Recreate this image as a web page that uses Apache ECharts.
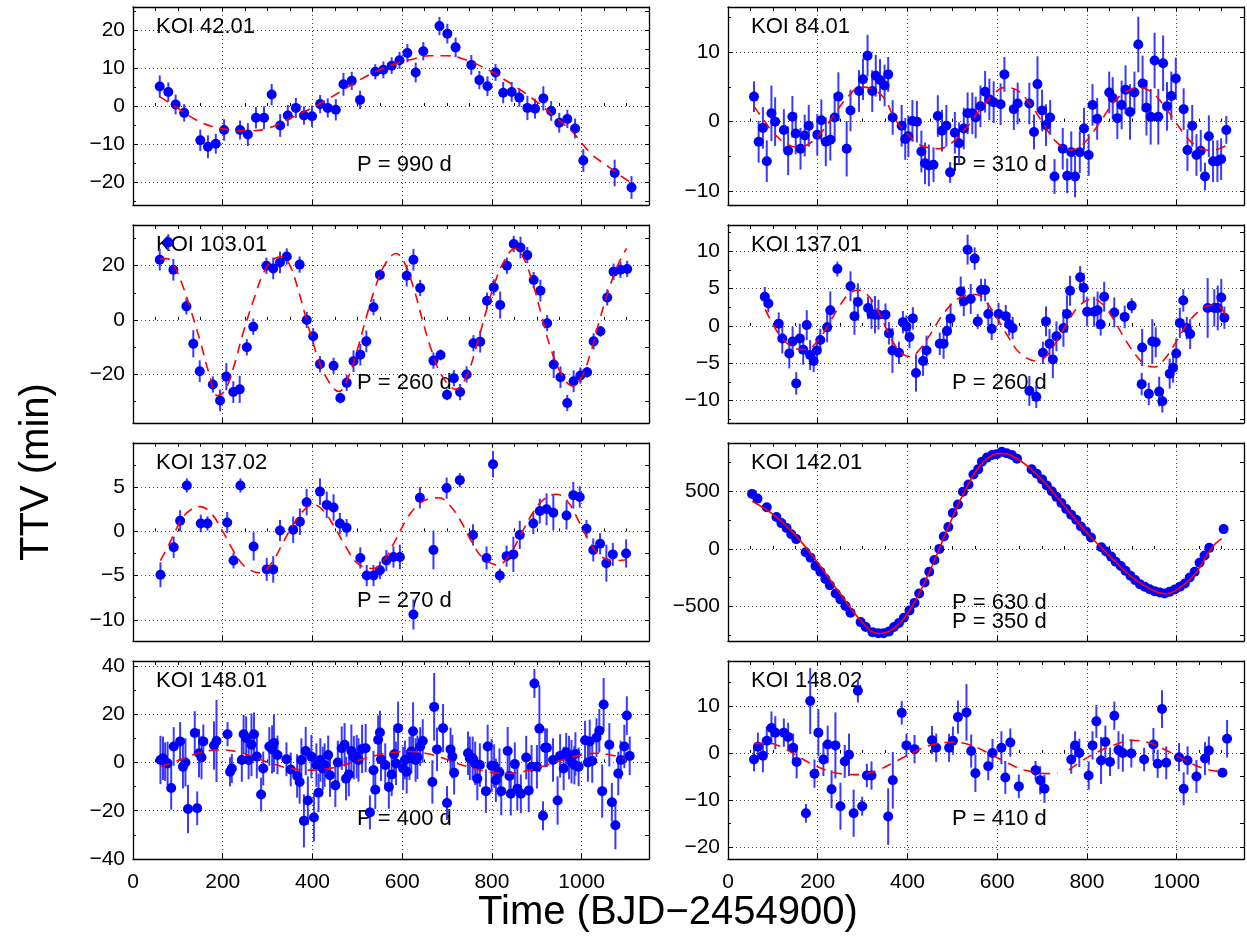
<!DOCTYPE html>
<html lang="en">
<head>
<meta charset="UTF-8">
<title>TTV</title>
<script src="https://cdn.jsdelivr.net/npm/echarts@6/dist/echarts.min.js"></script>
<style>html,body{margin:0;background:#fff}#container{width:1247px;height:941px}</style>
</head>
<body>
<div id="container"></div>
<script>
// observed transit times: [time, ttv, error]
var koi42_01 = [[59.6,5.1,2.9],[78.7,3.7,2.5],[95,0.4,2.6],[114,-1.8,2.3],[150,-9,2.8],[167,-10.7,3],[184.5,-9.9,2.6],[203,-6.3,2.8],[238.6,-6.3,2.5],[256,-7.5,3],[274,-3.1,2.8],[292,-3.1,3],[309,3.0,2.8],[328,-5.1,3],[345,-2.5,2.8],[363,-0.5,2.6],[381,-2.5,2.4],[399,-2.7,2.8],[417,0.5,2.4],[434,-0.5,2.5],[452,-1.0,2.8],[469,5.7,3],[487.5,6.6,2.4],[506,1.6,2.4],[540,9.0,2.0],[558,9.5,2.2],[576.5,10.6,2.2],[594,12.0,2.2],[611.5,13.9,2.4],[630,8.8,2.6],[647,14.4,2.4],[683,21.0,2.4],[700.6,19.0,2.6],[719,15.4,2.6],[754,10.8,2.6],[772,6.8,2.4],[790,5.2,2.6],[808,8.8,2.2],[825,3.5,2.8],[844,3.7,2.6],[861,2.2,2.4],[879,-0.5,3.2],[896,-0.7,2.6],[914.5,2.0,3.2],[932,-1.3,2.6],[950,-4.4,2.6],[968,-3.4,2.4],[985.3,-5.9,2.6],[1003.6,-14.3,3.0],[1073.5,-17.6,3.5],[1111,-21.4,3]];
var koi42_01_fit = [[60,2.4],[100,-0.6],[140,-3.6],[180,-5.5],[220,-6.3],[260,-6.5],[300,-5.9],[340,-3.8],[380,-1.6],[420,0.8],[460,3.6],[500,6.5],[540,9.0],[580,10.9],[620,12.2],[660,13.2],[700,13.2],[740,12.2],[780,10.2],[820,7.5],[860,4.5],[900,1.1],[940,-2.8],[980,-6.9],[1020,-12.4],[1060,-16.0],[1110,-20.2]];

var koi84_01 = [[57.9,3.6,2.2],[68.3,-2.9,3],[77.8,-0.9,3],[86.4,-5.7,3],[96.8,1.2,4],[105,0,3.5],[124.5,-1.2,3],[134,-4.2,3.5],[143.5,0.7,3],[151,-1.7,3],[161.6,-3.9,3],[171,-2,3],[180,-0.6,3],[199,-1.9,3],[208,0.2,3],[218,-2.9,3.5],[228,-2.6,3],[237.7,0.6,3.5],[246,3.6,3.5],[264.5,-3.9,4],[273,1.6,3],[292,4.4,3],[300.8,6.1,3],[311,9.5,3],[321.5,4.4,3],[329.3,6.6,3],[338.8,6.0,3],[349,5.2,3],[357,6.8,2.5],[367,0.6,2.5],[387,-0.6,3],[395,-2.5,3],[402,-2.1,3],[411,0.1,3],[421,0,3],[431,-4.3,3],[439,-6.0,3],[447.7,-6.3,3],[458,-6.2,2.5],[467.6,0.8,3],[477,-1.3,3],[486.6,-0.6,3],[495,-7.3,1.5],[505.6,-1.6,3],[515,-3.1,3],[525.5,-1.0,3],[534,1.2,3],[544.5,1.2,3],[552,0.6,3],[562.6,2.2,3],[573,4.3,3],[582.5,3.2,3],[592,2.8,3],[607.6,2.5,3],[616,6.8,2.5],[637,1.8,3],[645.6,2.6,3],[671.6,2.6,3],[682,-1.5,2.5],[689.7,5.4,4],[700,1.6,3],[708.7,-0.5,3],[718,0.6,2.5],[727.7,-7.9,2.5],[746,-3.9,3],[756,-7.8,2.5],[765,-4.4,3],[773.5,-7.9,3],[784,-4.4,3],[793.4,-1.0,3],[803.8,-4.8,3],[812.4,2.4,3],[822.8,0.4,3],[849.6,4.2,3],[857.4,3.4,3],[867.7,0.5,3],[877.3,2.4,3.5],[886,4.6,3.5],[896,1.4,4],[905.8,4.2,3],[914.4,11.1,4],[924,5.5,4],[932.6,2.0,4],[942,0.7,4],[950.7,8.8,4],[959,0.7,4],[969.7,8.4,4],[978.4,2.2,3.5],[988,3.7,3.5],[998,6.2,3],[1015.5,1.8,3],[1024,-4.1,3],[1034.6,-0.6,3],[1044,-4.8,3],[1053.6,-4.2,3],[1063,-7.9,2],[1071.7,-2.1,3],[1081,-5.7,3],[1090.7,-5.7,3],[1099,-5.4,3],[1110.6,-1.2,2]];
var koi84_01_fit = [[58,2.2],[80,0.2],[100,-1.5],[125,-3.0],[155,-3.7],[185,-3.0],[215,-1.0],[245,1.8],[270,3.8],[295,5.0],[325,4.6],[350,3.2],[370,0.6],[400,-1.8],[430,-3.4],[470,-3.9],[500,-3.0],[530,-1.0],[560,1.6],[590,3.8],[615,4.9],[645,4.5],[670,2.8],[700,0.0],[730,-2.8],[765,-4.1],[795,-3.0],[830,0.0],[860,2.8],[890,4.4],[916,4.9],[945,4.2],[975,2.0],[1000,-0.3],[1030,-2.8],[1060,-4.0],[1080,-4.1],[1111,-3.4]];

var koi103_01 = [[59.6,22.2,4],[78.7,28.6,3],[90,18.5,4],[119,5.0,3],[134.4,-8.8,5],[148.7,-18.9,4],[178,-23.8,3],[194,-29.7,4],[208,-20.9,5],[223.5,-26.6,4],[237.8,-25.6,5],[253.7,-10.1,3],[268,-2.5,3],[297.4,20.0,3],[312.5,19.0,4],[327.6,21.2,4],[342.7,23.4,3],[371.4,20.4,3],[387.3,0,3],[401.6,-6.0,3],[416.7,-16.3,3],[447,-16.9,3],[462,-28.8,2],[476.3,-23.2,3],[491.5,-15.2,4],[506.6,-12.8,4],[520,-7.9,4],[536,4.7,3],[550.3,16.6,2],[610,16.3,4],[625,22.2,4],[640,11.8,3],[669.6,-15.0,3],[685.5,-12.9,2],[699.8,-27.6,2],[715,-21.5,3],[729,-26.6,3],[743.5,-20.1,3],[758.7,-8.6,3],[773.8,-8.0,4],[788.9,7.1,3],[804,12.0,3],[818.3,5.5,5],[833.4,20.0,3],[848.5,28.0,3],[863.6,26.7,4],[878.7,23.9,3],[893,14.7,3],[908,10.8,4],[923,-1.2,3],[937.6,-16.4,5],[952.7,-21.1,4],[967.8,-30.6,3],[982,-22.6,4],[997,-20.5,3],[1012,-19.3,2],[1026.6,-7.9,3],[1041.7,-4.2,2],[1056.9,8.3,3],[1071,17.8,3],[1086.3,18.5,3],[1101.4,18.8,3]];
var koi103_01_fit = [[60,22.4],[75,22.6],[90,20.5],[110,13],[130,3],[150,-8],[170,-20],[188,-27.9],[205,-26],[225,-17],[245,-5],[270,8],[290,17],[310,22],[332,23.4],[350,20],[370,10],[390,-2],[410,-13],[430,-21],[459,-26.4],[480,-21],[500,-11],[520,1],[540,12],[560,20],[586,24.5],[605,21],[625,12],[645,0],[665,-11],[690,-21],[721,-25.6],[745,-20],[765,-10],[785,2],[805,13],[825,21],[852,26.4],[870,23],[890,14],[910,2],[930,-10],[955,-20],[980,-24.4],[1000,-21],[1020,-12],[1040,0],[1060,11],[1080,20],[1100,26.4]];

var koi137_01 = [[82,3.9,1.3],[90,3.0,1.2],[113,0.3,1.5],[121,-1.7,2],[136.6,-3.7,2],[144,-2.1,2],[152,-7.7,1.5],[160,-1.7,2],[167.7,-3.2,2],[175.5,0.1,2],[183,-3.9,2],[191,-4.7,1.5],[198,-3.3,1.5],[205.7,-1.9,1.5],[221,-0.2,2],[228,2.1,2.5],[243.7,7.6,1],[273,5.3,2],[281.8,1.3,2.5],[289.5,3.2,2.5],[312,2.4,1.5],[319.8,1.6,2],[327.6,1.5,2.5],[335.3,1.5,2],[351,1.5,1.5],[358.7,-1.0,1.5],[366.5,-3.3,3],[381,-3.6,1.5],[389.8,0.5,1.5],[397.6,-0.1,1.5],[404.5,-1.5,1.5],[412,1.0,1.5],[419,-6.3,2.5],[434.7,-4.7,2],[442.5,-3.3,2],[472,-2.4,1.5],[480.5,-2.4,2],[488,-0.7,2],[496,1.0,2],[518.6,4.6,2],[525.5,3.3,2],[534,10.2,2],[541,3.6,2],[549.7,9.0,1.5],[556.6,0.6,1],[564,4.8,1.5],[573,4.8,1.5],[580,1.6,1.5],[587.7,-0.4,1.5],[603,1.6,1.5],[619,1.3,1.5],[626.6,0.2,1.5],[634.4,-0.3,1.5],[671.6,-8.7,2],[687,-9.5,1.5],[701.8,-3.6,1.5],[708.7,0.6,2],[716.5,-2.4,2],[724,-4.5,2.5],[732,-1.4,2],[747.6,-0.3,2.5],[755.4,1.6,2.5],[762.3,4.7,2],[784.8,6.5,1.5],[792.6,5.1,2],[800.4,1.9,2],[816,1.9,2],[823.7,2.1,2.5],[830.6,0.2,1.5],[838.4,3.9,2],[860.8,1.8,2],[884,1.2,1.5],[899.7,2.7,1],[922,-7.8,1.5],[923,-2.9,2.5],[937.8,-9.1,1.5],[945.6,-2.1,3],[953.3,-2.2,2],[961,-8.8,2],[968,-10.1,1.5],[984.4,-6.4,2],[992,-5.6,2],[999,-3.7,2],[1007,0.4,2],[1014.7,3.4,1.5],[1022.5,-0.3,1.5],[1030,-1.1,2],[1069,2.4,4],[1083.8,2.4,2.5],[1091.6,2.4,3],[1099.4,3.8,2.5],[1106.3,1.1,1.5]];
var koi137_01_fit = [[83,2.2],[100,0.2],[120,-1.6],[145,-2.9],[173,-3.2],[200,-2.0],[225,0.3],[250,2.8],[270,4.3],[290,4.8],[310,4.2],[330,2.5],[350,0.0],[370,-2.4],[390,-3.8],[406,-4.1],[425,-3.3],[450,-1.2],[475,1.2],[500,3.0],[525,4.0],[553,4.2],[575,3.2],[600,1.0],[625,-1.5],[650,-3.6],[687,-4.7],[710,-4.0],[735,-1.8],[760,0.8],[785,2.8],[812,3.6],[835,2.9],[860,0.8],[885,-1.8],[910,-4.0],[930,-5.2],[951,-5.5],[975,-4.3],[1000,-2.0],[1025,0.4],[1050,2.0],[1070,2.7],[1089,2.8],[1110,1.3]];

var koi137_02 = [[61.2,-4.9,1.4],[90.7,-1.8,1.2],[105,1.2,1.2],[120,5.2,0.8],[151,0.9,1.0],[166,0.9,0.8],[210,1.0,1.2],[224,-3.3,0.9],[239.4,5.2,0.8],[268.8,-1.7,1.6],[298,-4.3,1.3],[312.5,-4.3,1.5],[327.6,0.1,1.2],[357,0.2,1.5],[372,1.1,1.5],[387,3.3,1.5],[416.7,4.5,1.5],[431.8,3.0,1.5],[447,2.7,1.5],[461,0.9,1.2],[476,0.4,1.0],[506.6,-3.0,1.2],[520.9,-5.0,1.2],[536,-5.0,1.2],[550.3,-4.4,1.0],[564.6,-3.3,1.2],[580.5,-2.9,1.2],[594.8,-2.9,1.4],[625,-9.4,1.7],[639.4,3.8,1.2],[669.6,-2.1,2.2],[699,4.9,1.2],[728.4,5.8,0.8],[757.8,-0.4,1.2],[788,-3.0,1.3],[802.4,7.6,1.5],[817.5,-5.0,0.8],[832.6,-2.8,1.2],[847.7,-2.6,2],[862,-0.4,1.6],[892.2,0.9,1.2],[906.6,2.3,1.4],[921.7,2.5,1.8],[936.8,2.1,2],[966.2,1.8,1.6],[981.3,4.1,1.5],[995.6,3.9,1.2],[1010.7,0.3,1.0],[1025.8,-2.1,1.3],[1041,-1.4,1.2],[1055,-3.6,2.1],[1069.4,-2.6,1.3],[1099,-2.5,1.6]];
var koi137_02_fit = [[61,-3.3],[80,-1.5],[100,0.6],[120,2.1],[149,2.8],[175,2.0],[200,0.0],[225,-2.3],[250,-4.0],[284,-4.7],[310,-3.5],[335,-1.2],[360,1.0],[385,2.6],[403,3.0],[425,2.3],[450,0.4],[475,-1.8],[500,-3.6],[534,-4.2],[560,-3.2],[585,-1.0],[610,1.4],[635,3.0],[660,3.7],[682,3.8],[705,3.0],[730,1.2],[755,-1.2],[780,-3.0],[813,-3.8],[840,-2.6],[865,-0.3],[890,2.0],[915,3.6],[944,4.2],[970,3.3],[995,1.0],[1020,-1.4],[1045,-2.9],[1079,-3.3],[1099,-3.2]];

// KOI 142.01: errors smaller than the dots
var koi142_01 = [[53.6,478,0],[65.7,437,0],[86.4,362,0],[108,277,0],[119,224,0],[130.5,181,0],[141,128,0],[152,85,0],[173,-29,0],[184,-76,0],[195,-149,0],[206,-198,0],[217,-262,0],[227,-315,0],[240,-388,0],[250.6,-440,0],[262,-496,0],[273,-554,0],[295.6,-636,0],[307,-679,0],[322,-723,0],[335,-732,0],[346.6,-732,0],[358.7,-717,0],[370,-679,0],[381,-644,0],[392,-598,0],[404.5,-534,0],[415.7,-469,0],[426,-388,0],[438,-292,0],[448.6,-198,0],[460,-96,0],[471,0,0],[481,108,0],[491,190,0],[501,312,0],[512.5,385,0],[523.7,496,0],[536,560,0],[547,647,0],[557.5,691,0],[566,758,0],[577,793,0],[588.6,816,0],[599,822,0],[610,843,0],[621,831,0],[632.7,816,0],[644,784,0],[676.7,691,0],[688,653,0],[700,604,0],[710.5,551,0],[721.7,501,0],[732,452,0],[743,399,0],[753.7,347,0],[765,297,0],[776,254,0],[786.5,195,0],[797.7,152,0],[809,99,0],[832,15,0],[842.7,-23,0],[854,-67,0],[864,-111,0],[875.5,-149,0],[886,-190,0],[897,-233,0],[907.5,-271,0],[918,-306,0],[929,-329,0],[940,-350,0],[950.7,-367,0],[962,-379,0],[973,-388,0],[984,-373,0],[995.7,-353,0],[1007,-329,0],[1018,-300,0],[1029,-248,0],[1040,-198,0],[1051,-120,0],[1062,-58,0],[1072.6,9,0],[1104.6,172,0]];
var koi142_01_fit = [[54,414],[100,300],[150,120],[200,-120],[250,-390],[300,-640],[335,-735],[370,-690],[410,-500],[450,-190],[490,180],[530,520],[570,760],[610,830],[650,770],[700,600],[750,370],[800,140],[850,-60],[900,-245],[950,-365],[975,-390],[1000,-355],[1040,-220],[1080,20],[1100,90]];

var koi148_01 = [[61.2,1.0,10],[66.8,1.7,9],[71.6,0.3,8],[77.1,-0.4,9],[85.1,-10.6,9],[90.7,6.6,8],[105,8.7,8],[111.3,-1.8,9],[116.9,0,10],[122.5,-19.3,10],[137.6,12.2,9],[143.1,-19.0,7],[147.1,3.8,10],[152.7,2.0,9],[156.7,8.7,7],[180.5,7.0,10],[186.1,8.9,17],[210.7,11.7,5],[216.3,-3.9,6],[220.3,-2.5,6],[242.5,1.0,9],[246.5,11.7,8],[252.1,10.1,9],[257.7,1.0,8],[264,7.3,13],[269.6,11.7,9],[276,2.4,9],[285.5,-13.3,7],[290.2,-2.5,7],[303.8,6.6,8],[310.1,5.4,10],[314.1,8.0,12],[322,3.1,8],[342,1.3,7],[351.5,-2.9,7],[365.8,-5.6,9],[371.4,-8.1,9],[375.3,1.0,9],[380.9,-24.2,11],[384.9,4.7,10],[389.7,-15.8,10],[397.6,2.4,9],[403.2,-22.8,10],[408.7,-1.1,9],[413.5,-12.6,8],[417.5,1.0,9],[423,-2.5,9],[427,-1.1,9],[435,3.1,8],[439,-5.3,9],[451,-9.5,9],[456.4,0,9],[465.2,5.9,9],[471.6,7.3,9],[474.7,-6.7,9],[481,-5.0,9],[486.7,4.7,11],[492.2,2.0,9],[498.6,2.4,9],[502.6,1.0,9],[510.5,5.6,10],[518.5,5.9,10],[528,-20.7,7],[536,-3.2,8],[540,-11.3,8],[546.3,9.4,10],[550.3,12.4,9],[552.7,1.3,9],[562.2,-1.1,9],[570.2,-10.2,9],[576.5,-5.0,9],[582,3.4,10],[586,-0.4,9],[590.8,14.2,11],[602,-2.5,9],[606,1.0,8],[610,-3.9,9],[616.3,1.7,9],[620.3,4.5,9],[624.2,12.9,12],[629.8,1.0,9],[633.8,2.1,9],[640,6.6,8],[645.7,8.9,9],[667.2,-8.1,9],[671.2,23.0,14],[677.5,5.4,9],[691,14.2,10],[699.8,-16.8,7],[707.7,5.4,9],[711.7,2.4,9],[715.7,-4.3,9],[746.7,3.8,9],[750.7,1.7,9],[757,1.7,9],[762.6,-0.4,9],[767.4,-6.7,9],[773,-1.1,9],[786.5,-11.9,9],[790.4,6.6,9],[799.2,-1.4,11],[804.8,-1.5,9],[808.7,-7.4,9],[816.7,-4.2,10],[820.7,-11.9,10],[835,4.7,10],[839,-5.6,9],[842,-13.0,9],[850.9,-0.7,9],[856.5,-10.9,9],[864.4,-13.0,8],[876.3,2.0,9],[882,-11.6,9],[888.3,-1.8,9],[894.6,32.7,6],[900.2,-1.8,9],[905.7,14.0,18],[913.7,-22.1,6],[918.5,6.1,8],[922.5,6.1,8],[936,1.0,9],[946.3,-15.8,10],[951.9,2.7,9],[959.8,-2.5,9],[965.4,4.2,8],[971.8,2.0,9],[977.3,0.3,9],[983.7,-1.1,8],[986,3.5,9],[993.2,-1.8,8],[1007.5,9.2,8],[1013.9,0,8],[1017.9,8.7,9],[1023.5,0.6,9],[1033,10.3,8],[1039.3,13.1,9],[1045.7,-11.9,11],[1048.9,24.0,11],[1061.6,7.3,9],[1067.2,-16.5,8],[1075.1,-26.0,10],[1081.5,-4.6,9],[1087,1.0,8],[1095,6.6,9],[1100.6,19.4,8],[1107,2.7,8]];
var koi148_01_fit = [[61,-1.8],[100,0.8],[140,3.5],[188,5.2],[230,4.5],[270,2.2],[310,-0.5],[350,-2.5],[395,-3.2],[440,-2.4],[480,-0.5],[520,1.8],[560,3.6],[618,4.5],[660,3.5],[700,1.2],[740,-1.5],[780,-3.5],[832,-4.6],[870,-3.8],[910,-1.8],[950,0.6],[990,2.7],[1031,3.8],[1060,3.3],[1095,1.7]];

var koi148_02 = [[57.9,-1.4,2.5],[66.6,1.3,3],[77.8,-0.6,3.5],[86.4,2.6,3],[96.8,5.3,3.5],[105.4,4.3,3.5],[124.5,4.3,3],[134,3.4,3],[145.2,1.1,3],[153,-1.9,3.5],[173.7,-12.8,2],[183.2,11.0,7],[192.7,-4.4,3],[201.4,4.3,5],[212.6,-1.4,3.5],[222.1,1.8,4],[230.8,-7.7,4],[239.4,1.6,7],[250.6,-11.3,5],[260.2,-1.8,3.5],[269.7,-0.4,4.5],[280,-12.8,5],[289.5,13.2,2.5],[299,-11.3,2],[309.4,-4.8,2.5],[319.8,-4.8,3],[357,-13.5,6],[367.3,-5.8,6],[387.2,8.5,2.5],[397.6,1.6,2.5],[415.7,0.8,3],[454.6,2.7,3],[464,1.1,3],[492.7,1.1,3],[501.3,2.6,3],[512.5,7.6,3.5],[531.5,8.6,6],[542,0.4,3.5],[551.4,-4.3,4],[580,-2.8,3],[589.5,0,3],[609.3,1.1,3.5],[618,-5.2,3.5],[629.2,2.2,3],[648.2,-7.1,2.5],[685.4,-3.7,2],[695.8,-5.8,3],[705.3,-7.6,3],[765,-1.4,3],[773.5,1.6,3],[783,0,3],[803.8,-4.8,3],[812.4,1.6,3],[821,6.7,3.5],[831.4,-1.6,5],[841,2.3,3.5],[851.3,-1.9,3],[861,7.9,3],[870.3,0.6,4],[880,0,4],[898.9,-0.1,3],[927.4,-1.4,2.5],[948.1,1.8,3.5],[957.6,-2.3,3],[967.2,9.3,4],[976.7,-2.1,3.5],[1005.2,-0.9,3],[1015.5,-7.6,3.5],[1024.2,-1.6,3],[1044,-5.0,3.5],[1063,-1.2,3.5],[1071.7,0.5,3],[1102,-4.2,0.5],[1112.3,3.0,4]];
var koi148_02_fit = [[58,2.0],[90,2.1],[120,1.2],[150,-0.4],[190,-2.5],[230,-4.0],[260,-4.5],[294,-4.6],[330,-3.8],[370,-2.0],[410,0.0],[450,1.6],[501,2.3],[540,1.7],[580,0.0],[620,-2.0],[660,-3.6],[717,-4.4],[735,-4.3],[745,'-'],[760,-3.6],[790,-1.6],[830,0.5],[870,2.0],[899,2.7],[940,2.1],[980,0.4],[1020,-1.6],[1060,-3.3],[1102,-4.0]];

var observations = [koi42_01, koi84_01, koi103_01, koi137_01, koi137_02, koi142_01, koi148_01, koi148_02];
var fits = [koi42_01_fit, koi84_01_fit, koi103_01_fit, koi137_01_fit, koi137_02_fit, koi142_01_fit, koi148_01_fit, koi148_02_fit];
var panelNames = ['KOI 42.01', 'KOI 84.01', 'KOI 103.01', 'KOI 137.01', 'KOI 137.02', 'KOI 142.01', 'KOI 148.01', 'KOI 148.02'];
var periodLabels = [['P = 990 d'], ['P = 310 d'], ['P = 260 d'], ['P = 260 d'], ['P = 270 d'], ['P = 630 d', 'P = 350 d'], ['P = 400 d'], ['P = 410 d']];
var yMin = [-26, -12, -38, -13, -12.4, -800, -40, -22.5];
var yMax = [26, 16.5, 35, 13.5, 10, 920, 42, 19.5];
var yMajor = [[-20,-10,0,10,20], [-10,0,10], [-20,0,20], [-10,-5,0,5,10], [-10,-5,0,5], [-500,0,500], [-40,-20,0,20,40], [-20,-10,0,10]];
var yMinorTicks = [[-25,-15,-5,5,15,25], [-5,5,15], [-30,-10,10,30], [-12.5,-7.5,-2.5,2.5,7.5,12.5], [-7.5,-2.5,2.5,7.5], [-750,-250,250,750], [-30,-10,10,30], [-15,-5,5,15]];
var xMajor = [0, 200, 400, 600, 800, 1000];
var xMinorTicks = [50,100,150,250,300,350,450,500,550,650,700,750,850,900,950,1050,1100];
var xMax = 1150;

// layout
var colLeft = [133, 728], plotW = 516;
var rowTop = [7, 225, 443, 661], plotH = 198;
var FONT = "'Liberation Sans', Arial, Helvetica, sans-serif";

function blackLine() { return { show: true, onZero: false, lineStyle: { color: '#000', width: 1.3 } }; }
function dotted() { return { show: true, lineStyle: { color: '#444', width: 1, type: [1, 3] } }; }
function ticks(vals, len) { return { show: true, inside: true, length: len, customValues: vals.slice(), lineStyle: { color: '#000' } }; }
function minusSign(v) { return String(v).replace('-', '\u2212'); }

function errorBars(params, api) {
    var x = api.value(0), y = api.value(1), e = api.value(2);
    var a = api.coord([x, y + e]);
    var b = api.coord([x, y - e]);
    return { type: 'line', shape: { x1: a[0], y1: a[1], x2: b[0], y2: b[1] }, style: { stroke: '#3a3aff', lineWidth: 2 } };
}

function buildOption() {
    var grids = [], xAxes = [], yAxes = [], series = [], graphics = [];
    for (var i = 0; i < 8; i++) {
        var col = i % 2, row = Math.floor(i / 2);
        var gLeft = colLeft[col], gTop = rowTop[row];
        grids.push({ left: gLeft, top: gTop, width: plotW, height: plotH });

        xAxes.push({ type: 'value', gridIndex: i, min: 0, max: xMax, position: 'bottom',
            axisLine: blackLine(), axisTick: ticks(xMajor, 5),
            axisLabel: { show: row === 3, customValues: xMajor.slice(), color: '#000', fontSize: 21, fontFamily: FONT, margin: 13, formatter: minusSign },
            splitLine: dotted() });
        xAxes.push({ type: 'value', gridIndex: i, min: 0, max: xMax, position: 'top',
            axisLine: blackLine(), axisTick: ticks(xMajor.concat(xMinorTicks), 4),
            axisLabel: { show: false }, splitLine: { show: false } });
        xAxes.push({ type: 'value', gridIndex: i, min: 0, max: xMax, position: 'bottom',
            axisLine: { show: false }, axisTick: ticks(xMinorTicks, 3),
            axisLabel: { show: false }, splitLine: { show: false } });

        yAxes.push({ type: 'value', gridIndex: i, min: yMin[i], max: yMax[i], position: 'left',
            axisLine: blackLine(), axisTick: ticks(yMajor[i], 5),
            axisLabel: { show: true, customValues: yMajor[i].slice(), color: '#000', fontSize: 21, fontFamily: FONT, margin: 8, formatter: minusSign },
            splitLine: dotted() });
        yAxes.push({ type: 'value', gridIndex: i, min: yMin[i], max: yMax[i], position: 'right',
            axisLine: blackLine(), axisTick: ticks(yMajor[i].concat(yMinorTicks[i]), 4),
            axisLabel: { show: false }, splitLine: { show: false } });
        yAxes.push({ type: 'value', gridIndex: i, min: yMin[i], max: yMax[i], position: 'left',
            axisLine: { show: false }, axisTick: ticks(yMinorTicks[i], 3),
            axisLabel: { show: false }, splitLine: { show: false } });

        var ai = i * 3;
        if (i !== 5) {
            series.push({ type: 'custom', xAxisIndex: ai, yAxisIndex: ai, data: observations[i],
                renderItem: errorBars, encode: { x: 0, y: [1, 2] }, z: 2 });
        }
        series.push({ type: 'scatter', xAxisIndex: ai, yAxisIndex: ai, data: observations[i],
            symbolSize: 10, itemStyle: { color: '#0000ff', opacity: 1 }, z: 3 });
        series.push({ type: 'line', xAxisIndex: ai, yAxisIndex: ai, data: fits[i], smooth: 0.4, showSymbol: false,
            lineStyle: { color: '#ff0000', width: 1.6, type: i === 5 ? 'solid' : [10, 7] }, z: 4 });

        graphics.push({ type: 'text', left: gLeft + 23, top: gTop + 9,
            style: { text: panelNames[i], fill: '#000', font: '22px ' + FONT } });
        var pl = periodLabels[i];
        for (var k = 0; k < pl.length; k++) {
            graphics.push({ type: 'text', left: gLeft + 224, top: gTop + (pl.length === 1 ? 147 : 149 + k * 19),
                style: { text: pl[k], fill: '#000', font: '22px ' + FONT } });
        }
    }

    graphics.push({ type: 'text', x: 37, y: 472, rotation: Math.PI / 2,
        style: { text: 'TTV (min)', fill: '#000', font: '40px ' + FONT, align: 'center', verticalAlign: 'middle' } });
    graphics.push({ type: 'text', x: 668, y: 913,
        style: { text: 'Time (BJD\u22122454900)', fill: '#000', font: '40px ' + FONT, align: 'center', verticalAlign: 'middle' } });

    return { animation: false, backgroundColor: '#fff', grid: grids, xAxis: xAxes, yAxis: yAxes, series: series, graphic: graphics };
}

var myChart = echarts.init(document.getElementById('container'), null, { renderer: 'canvas' });
myChart.setOption(buildOption());
window.addEventListener('resize', myChart.resize);
</script>
</body>
</html>
